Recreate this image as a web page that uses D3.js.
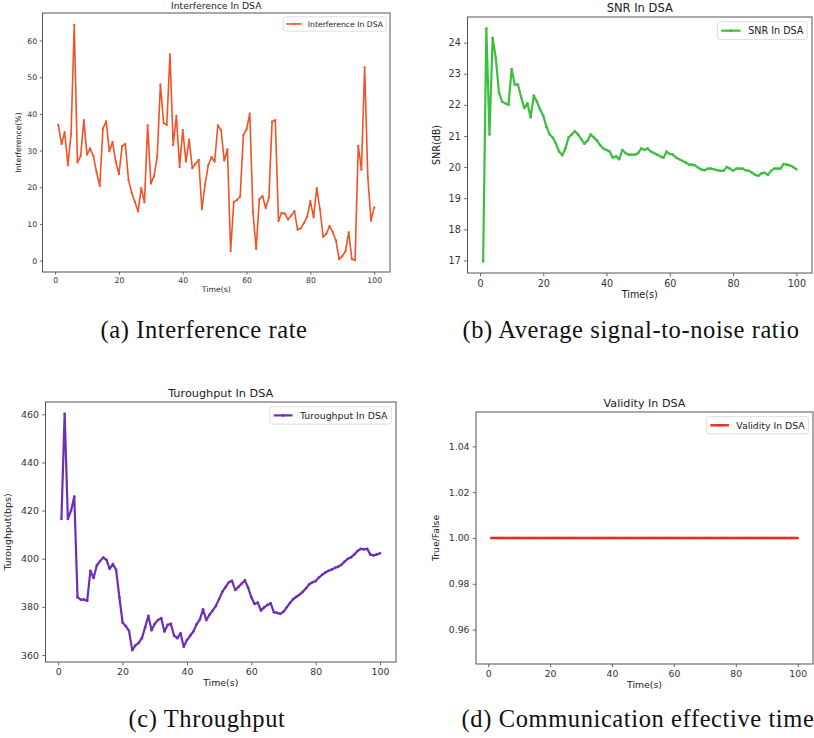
<!DOCTYPE html>
<html>
<head>
<meta charset="utf-8">
<script src="https://cdn.jsdelivr.net/npm/d3@7"></script>
<style>
  body { margin: 0; background: #fff; }
  svg { display: block; }
</style>
</head>
<body>
<div id="chart"></div>
<script>
// time axis (seconds)
const time = d3.range(1, 101);

const interference = [
  37, 31.8, 35, 26, 34.5, 64.3, 26.8, 28.5, 38.3, 28.9,
  30.6, 28.5, 24, 20.4, 36, 38, 29.8, 32.3, 27, 23.6,
  31.2, 31.8, 22, 18.5, 16, 13.4, 19.8, 15.9, 36.9, 21,
  23, 28.3, 48, 37.5, 37, 56.2, 31.5, 39.5, 25.5, 35.6,
  27, 33, 25.2, 26.4, 27.5, 14, 20.8, 26, 28.2, 27,
  36.9, 35.6, 27.3, 30.3, 2.6, 16, 16.5, 17.5, 34.2, 35.8,
  40.1, 13.2, 3.2, 16.7, 17.6, 14.3, 17.2, 37.9, 38.3, 10.8,
  13, 12.8, 11.2, 12.3, 13.5, 8.4, 8.8, 10.3, 12, 16.2,
  11.8, 19.8, 14, 6.5, 7.3, 9.4, 7.8, 5.5, 0.4, 1.2,
  2.6, 7.7, 0.4, 0.1, 31.3, 24.8, 52.7, 22.7, 10.9, 14.5
];

const snr = [
  16.97, 24.45, 21.05, 24.15, 23.5, 22.4, 22.1, 22.05, 22.0, 23.15,
  22.65, 22.65, 22.25, 21.9, 22.05, 21.6, 22.3, 22.1, 21.85, 21.65,
  21.3, 21.05, 20.95, 20.75, 20.5, 20.38, 20.6, 20.95, 21.05, 21.15,
  21.05, 20.9, 20.75, 20.85, 21.05, 20.95, 20.85, 20.7, 20.6, 20.55,
  20.5, 20.3, 20.35, 20.25, 20.55, 20.45, 20.4, 20.4, 20.4, 20.45,
  20.6, 20.55, 20.6, 20.5, 20.45, 20.4, 20.35, 20.3, 20.5, 20.42,
  20.4, 20.3, 20.25, 20.2, 20.15, 20.08, 20.08, 20.05, 19.98, 19.92,
  19.9, 19.95, 19.95, 19.93, 19.9, 19.88, 19.88, 20.0, 19.95, 19.88,
  19.95, 19.95, 19.95, 19.9, 19.88, 19.82, 19.75, 19.72, 19.8, 19.82,
  19.75, 19.88, 19.95, 19.95, 19.95, 20.1, 20.08, 20.05, 20.0, 19.93
];

const throughput = [
  416.5, 460.2, 416.5, 420, 425.8, 384, 383, 383, 382.5, 395,
  392, 397.3, 399, 400.5, 399.5, 395.8, 397.8, 395.3, 384, 373.5,
  372, 370, 362, 364, 365, 367, 371.5, 376.3, 370.3, 373,
  374.5, 375.3, 369.8, 372.5, 373, 368, 367, 369, 363.4, 366.2,
  368, 369.8, 372.8, 374.7, 379, 374.5, 376.7, 378.5, 380.4, 383.3,
  386.3, 388.2, 390.2, 390.8, 387, 388.3, 389.6, 391, 388, 384,
  381.2, 381.8, 378.5, 379.8, 380.8, 381.5, 377.8, 377.5, 377.1, 378,
  379.8, 381.6, 383.2, 384.2, 385.1, 386.3, 387.7, 389.4, 390.2, 390.7,
  392.2, 393.3, 394.3, 395.0, 395.5, 396.2, 396.7, 397.5, 398.8, 400.0,
  400.6, 401.8, 403.2, 404.1, 403.9, 404.1, 401.7, 401.4, 401.8, 402.3
];

const validity = [
  1, 1, 1, 1, 1, 1, 1, 1, 1, 1,
  1, 1, 1, 1, 1, 1, 1, 1, 1, 1,
  1, 1, 1, 1, 1, 1, 1, 1, 1, 1,
  1, 1, 1, 1, 1, 1, 1, 1, 1, 1,
  1, 1, 1, 1, 1, 1, 1, 1, 1, 1,
  1, 1, 1, 1, 1, 1, 1, 1, 1, 1,
  1, 1, 1, 1, 1, 1, 1, 1, 1, 1,
  1, 1, 1, 1, 1, 1, 1, 1, 1, 1,
  1, 1, 1, 1, 1, 1, 1, 1, 1, 1,
  1, 1, 1, 1, 1, 1, 1, 1, 1, 1
];

const xTicks = [0, 20, 40, 60, 80, 100];
const interferenceTicks = [0, 10, 20, 30, 40, 50, 60];
const snrTicks = [17, 18, 19, 20, 21, 22, 23, 24];
const throughputTicks = [360, 380, 400, 420, 440, 460];
const validityTicks = [0.96, 0.98, 1.00, 1.02, 1.04];

const captions = [
  "(a) Interference rate",
  "(b) Average signal-to-noise ratio",
  "(c) Throughput",
  "(d) Communication effective time"
];

const W = 814, H = 738;
const svg = d3.select("#chart").append("svg")
  .attr("width", W).attr("height", H)
  .style("font-family", "'DejaVu Sans', sans-serif");

// matplotlib style padding: 5% of data range
let padded = (vals) => {
  const [lo, hi] = d3.extent(vals);
  if (hi - lo < 1e-9) return [lo - 0.055 * Math.abs(lo), hi + 0.055 * Math.abs(hi)];
  const m = (hi - lo) * 0.05;
  return [lo - m, hi + m];
};

let drawPanel = (opt) => {
  const { box, f, values, yTicks, yFmt, color, lw, title, ylabel, legend, mr } = opt;
  const g = svg.append("g");
  const x = d3.scaleLinear().domain(padded(time)).range([box.left, box.right]);
  const y = d3.scaleLinear().domain(padded(values)).range([box.bottom, box.top]);

  // axes
  const xa = g.append("g")
    .attr("transform", `translate(0,${box.bottom})`)
    .call(d3.axisBottom(x).tickValues(xTicks).tickSize(3.5 * f / 10).tickPadding(3.5 * f / 10).tickFormat(d3.format("d")));
  const ya = g.append("g")
    .attr("transform", `translate(${box.left},0)`)
    .call(d3.axisLeft(y).tickValues(yTicks).tickSize(3.5 * f / 10).tickPadding(3.5 * f / 10).tickFormat(yFmt));
  [xa, ya].forEach(a => {
    a.select(".domain").remove();
    a.selectAll("line").attr("stroke", "#444").attr("stroke-width", 0.8);
    a.selectAll("text").attr("fill", "#333").style("font-size", f + "px")
      .style("font-family", "'DejaVu Sans', sans-serif");
  });

  // frame
  g.append("rect")
    .attr("x", box.left).attr("y", box.top)
    .attr("width", box.right - box.left).attr("height", box.bottom - box.top)
    .attr("fill", "none").attr("stroke", "#555").attr("stroke-width", 1);

  // series
  const pts = time.map((t, i) => ({ t: t, v: values[i] }));
  g.append("path")
    .datum(pts)
    .attr("fill", "none")
    .attr("stroke", color)
    .attr("stroke-width", lw)
    .attr("stroke-linejoin", "round")
    .attr("d", d3.line().x(d => x(d.t)).y(d => y(d.v)));
  g.append("g").selectAll("circle")
    .data(pts).enter().append("circle")
    .attr("cx", d => x(d.t)).attr("cy", d => y(d.v))
    .attr("r", mr).attr("fill", color);

  // title and labels
  const cx = (box.left + box.right) / 2;
  g.append("text").attr("x", cx).attr("y", box.top - 0.5 * f)
    .attr("text-anchor", "middle").attr("fill", "#222")
    .style("font-size", (f * 1.2) + "px").text(title);
  g.append("text").attr("x", cx).attr("y", box.bottom + 2.6 * f)
    .attr("text-anchor", "middle").attr("fill", "#222")
    .style("font-size", f + "px").text("Time(s)");
  g.append("text")
    .attr("transform", `translate(${opt.ylx},${(box.top + box.bottom) / 2}) rotate(-90)`)
    .attr("text-anchor", "middle").attr("fill", "#222")
    .style("font-size", f + "px").text(ylabel);

  // legend, upper right
  const lg = g.append("g");
  const txt = lg.append("text").style("font-size", f + "px").attr("fill", "#222").text(legend);
  const tw = txt.node().getComputedTextLength();
  const bw = tw + 3.6 * f, bh = 1.85 * f;
  const bx = box.right - 0.5 * f - bw, by = box.top + 0.5 * f;
  lg.insert("rect", "text")
    .attr("x", bx).attr("y", by).attr("width", bw).attr("height", bh)
    .attr("rx", 2).attr("fill", "#fff").attr("stroke", "#d6d6d6").attr("stroke-width", 0.8);
  const ly = by + bh / 2;
  lg.append("line")
    .attr("x1", bx + 0.4 * f).attr("x2", bx + 2.4 * f)
    .attr("y1", ly).attr("y2", ly)
    .attr("stroke", color).attr("stroke-width", lw);
  lg.append("circle").attr("cx", bx + 1.4 * f).attr("cy", ly).attr("r", mr).attr("fill", color);
  txt.attr("x", bx + 3.2 * f).attr("y", ly + 0.36 * f);
};

drawPanel({
  box: { left: 42.5, right: 390, top: 13, bottom: 272 }, f: 7.7,
  values: interference, yTicks: interferenceTicks, yFmt: d3.format("d"),
  color: "#f25224", lw: 1.6, mr: 1.1, ylx: 21,
  title: "Interference In DSA", ylabel: "Interference(%)", legend: "Interference In DSA"
});

drawPanel({
  box: { left: 467.5, right: 812, top: 17, bottom: 273 }, f: 9.6,
  values: snr, yTicks: snrTicks, yFmt: d3.format("d"),
  color: "#3fbf3f", lw: 2.2, mr: 1.3, ylx: 440,
  title: "SNR In DSA", ylabel: "SNR(dB)", legend: "SNR In DSA"
});

drawPanel({
  box: { left: 45.5, right: 396, top: 402, bottom: 662 }, f: 9.4,
  values: throughput, yTicks: throughputTicks, yFmt: d3.format("d"),
  color: "#6c2fb6", lw: 2.2, mr: 1.3, ylx: 11,
  title: "Turoughput In DSA", ylabel: "Turoughput(bps)", legend: "Turoughput In DSA"
});

drawPanel({
  box: { left: 476, right: 813, top: 412, bottom: 664 }, f: 9.3,
  values: validity, yTicks: validityTicks, yFmt: d3.format(".2f"),
  color: "#ee2a22", lw: 2.4, mr: 1.3, ylx: 439,
  title: "Validity In DSA", ylabel: "True/False", legend: "Validity In DSA"
});

// sub-figure captions
const capPos = [[204, 338], [631, 338], [207, 727], [638, 727]];
svg.selectAll("text.caption")
  .data(captions).enter().append("text")
  .attr("class", "caption")
  .attr("x", (d, i) => capPos[i][0]).attr("y", (d, i) => capPos[i][1])
  .attr("text-anchor", "middle").attr("fill", "#111")
  .style("font-family", "'Liberation Serif', 'DejaVu Serif', serif")
  .style("font-size", "24.5px")
  .style("letter-spacing", "0.6px")
  .text(d => d);
</script>
</body>
</html>
